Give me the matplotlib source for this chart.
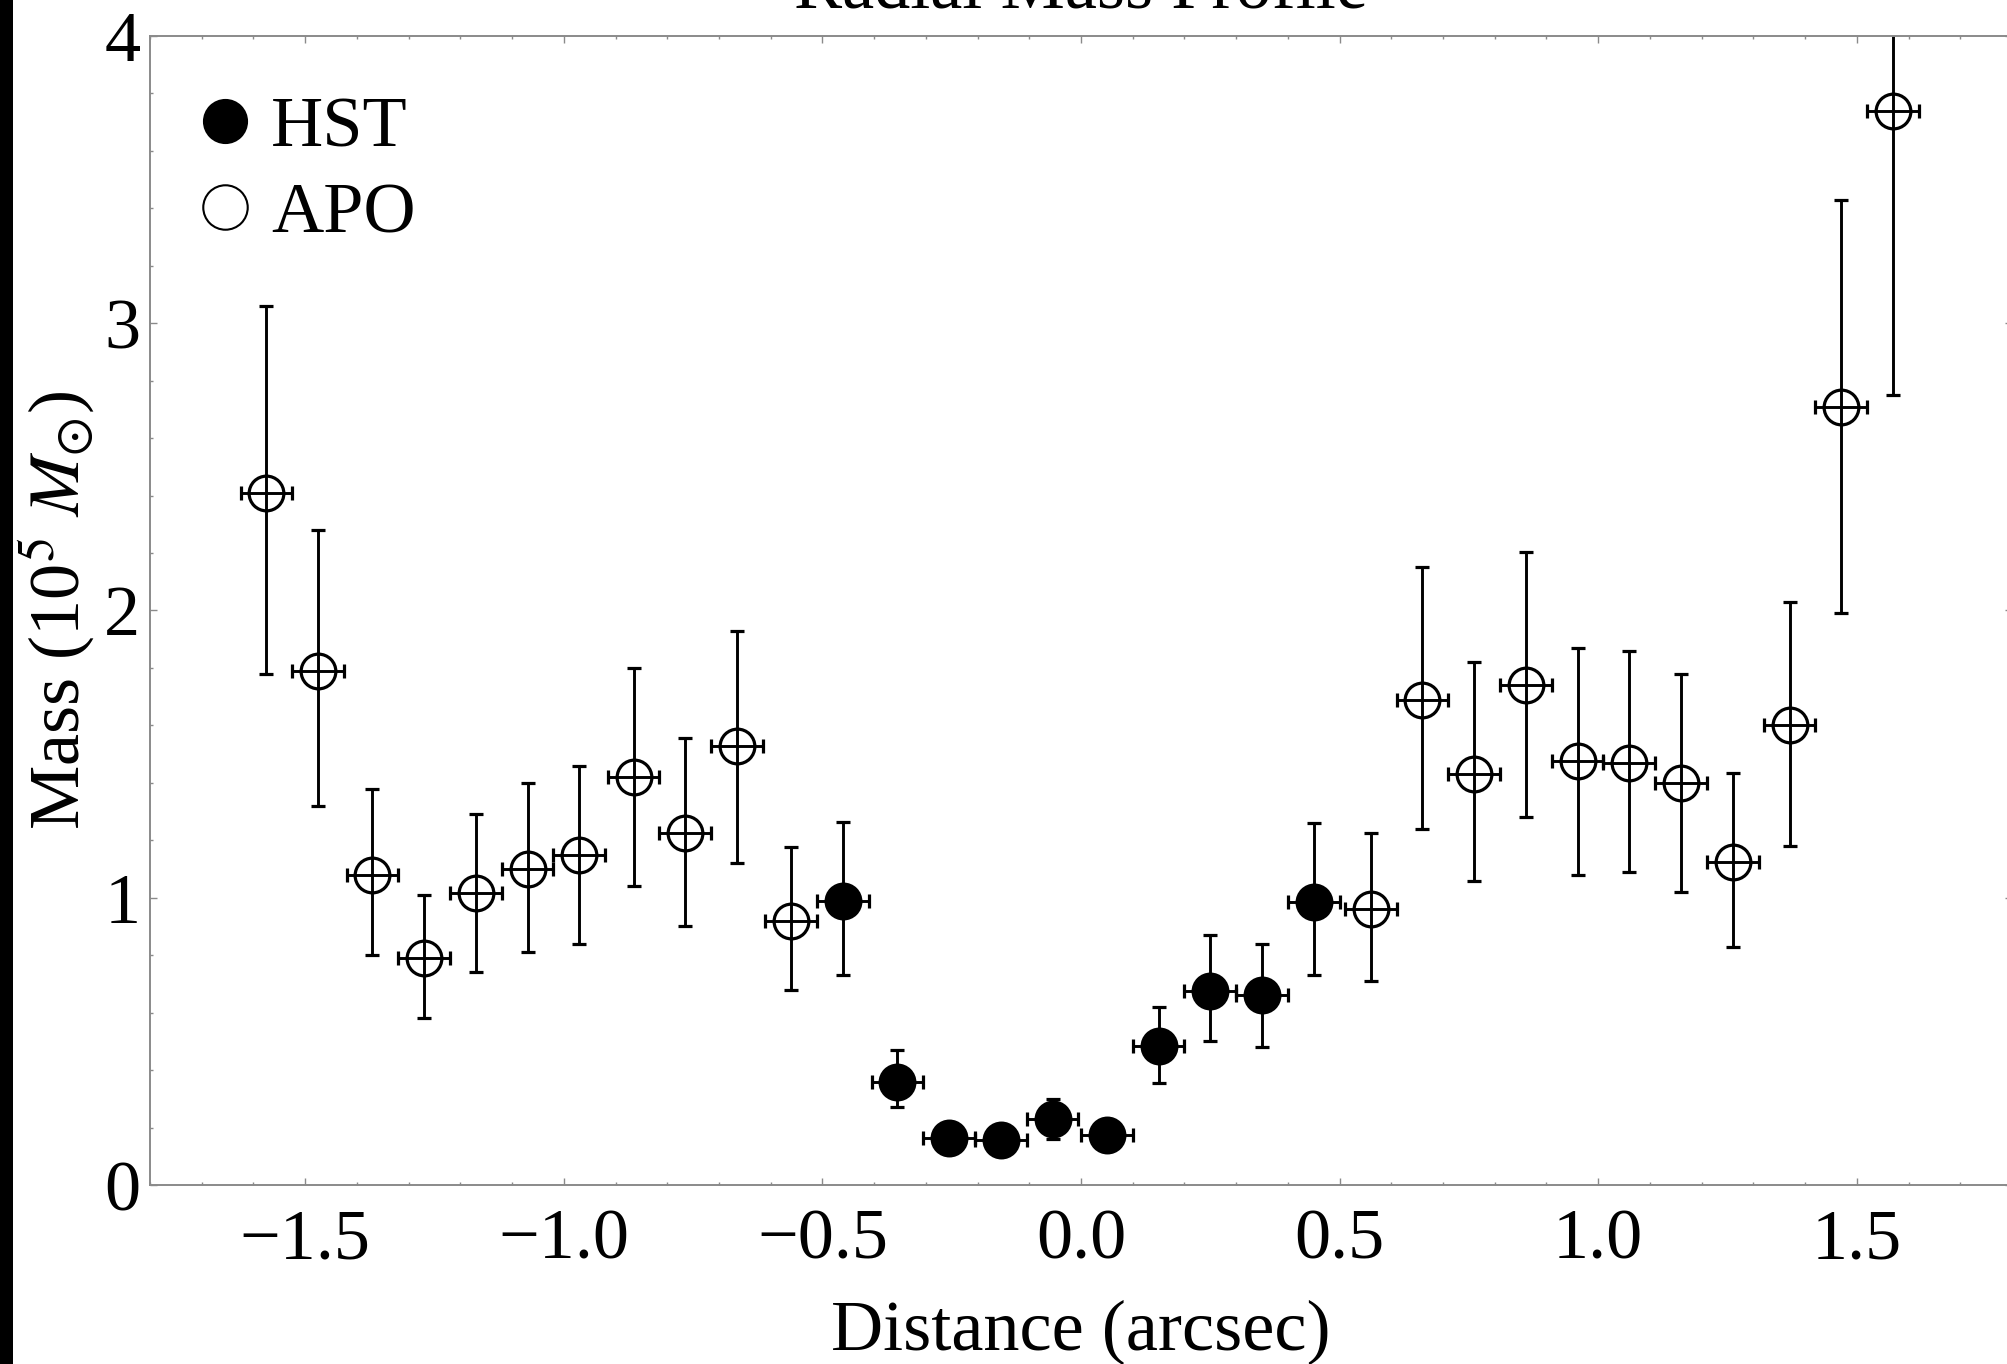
import matplotlib
matplotlib.use("Agg")
import matplotlib.pyplot as plt
from matplotlib.lines import Line2D
from matplotlib.patches import Rectangle
from matplotlib.ticker import MultipleLocator, FuncFormatter

plt.rcParams['font.family'] = ['Liberation Serif', 'DejaVu Serif']
plt.rcParams['mathtext.fontset'] = 'stix'

# HST points (filled)
hst_x = [-0.46, -0.355, -0.255, -0.155, -0.055, 0.05, 0.15, 0.25, 0.35, 0.45]
hst_mass = [0.99, 0.36, 0.165, 0.155, 0.23, 0.175, 0.485, 0.675, 0.66, 0.985]
hst_low = [0.73, 0.27, 0.115, 0.105, 0.16, 0.125, 0.355, 0.50, 0.48, 0.73]
hst_high = [1.265, 0.47, 0.215, 0.205, 0.30, 0.225, 0.62, 0.87, 0.84, 1.26]

# APO points (open)
apo_x = [-1.575, -1.475, -1.37, -1.27, -1.17, -1.07, -0.97, -0.865, -0.765, -0.665, -0.56,
         0.56, 0.66, 0.76, 0.86, 0.96, 1.06, 1.16, 1.26, 1.37, 1.47, 1.57]
apo_mass = [2.41, 1.79, 1.08, 0.79, 1.015, 1.10, 1.15, 1.42, 1.225, 1.53, 0.92,
            0.96, 1.69, 1.43, 1.74, 1.475, 1.47, 1.40, 1.125, 1.60, 2.71, 3.74]
apo_low = [1.78, 1.32, 0.80, 0.58, 0.74, 0.81, 0.84, 1.04, 0.90, 1.12, 0.68,
           0.71, 1.24, 1.06, 1.28, 1.08, 1.09, 1.02, 0.83, 1.18, 1.99, 2.75]
apo_high = [3.06, 2.28, 1.38, 1.01, 1.29, 1.40, 1.46, 1.80, 1.555, 1.93, 1.175,
            1.225, 2.15, 1.82, 2.205, 1.87, 1.86, 1.78, 1.435, 2.03, 3.43, 4.73]

x_halfwidth = 0.05

FS = 52
GRAY = '#8a8a8a'


def asym_err(vals, low, high):
    return [[v - l for v, l in zip(vals, low)], [h - v for v, h in zip(vals, high)]]


def main():
    fig = plt.figure(figsize=(20.07, 13.64), dpi=100)
    ax = fig.add_axes([0.07474, 0.13123, 0.92775, 0.84238])

    common = dict(fmt='o', color='black', ecolor='black', elinewidth=2.1,
                  capsize=5, capthick=2.1, markersize=25, markeredgewidth=2.3)
    ax.errorbar(apo_x, apo_mass, xerr=x_halfwidth, yerr=asym_err(apo_mass, apo_low, apo_high),
                markerfacecolor='none', **common)
    ax.errorbar(hst_x, hst_mass, xerr=x_halfwidth, yerr=asym_err(hst_mass, hst_low, hst_high),
                markerfacecolor='black', **common)

    ax.set_xlim(-1.8, 1.8)
    ax.set_ylim(0, 4)
    ax.xaxis.set_major_locator(MultipleLocator(0.5))
    ax.xaxis.set_minor_locator(MultipleLocator(0.1))
    ax.yaxis.set_major_locator(MultipleLocator(1))
    ax.yaxis.set_minor_locator(MultipleLocator(0.2))
    ax.xaxis.set_major_formatter(FuncFormatter(
        lambda v, p: ('\u2212' if v < -1e-9 else '') + f"{abs(v):.1f}"))
    ax.yaxis.set_major_formatter(FuncFormatter(lambda v, p: f"{v:g}"))

    for s in ax.spines.values():
        s.set_color(GRAY)
        s.set_linewidth(1.4)
    ax.tick_params(which='both', direction='in', top=True, right=True, color=GRAY, width=1.0)
    ax.tick_params(which='major', length=5)
    ax.tick_params(which='minor', length=2.5)
    ax.tick_params(axis='x', which='major', labelsize=FS, pad=17)
    ax.tick_params(axis='y', which='major', labelsize=FS, pad=7)

    ax.set_xlabel('Distance (arcsec)', fontsize=FS, va='baseline')
    ax.xaxis.set_label_coords(0.5, -0.1436)
    ax.set_ylabel('Mass (10$^{5}$ $M_{\\odot}$)', fontsize=FS, va='baseline')
    ax.yaxis.set_label_coords(-0.0376, 0.5)
    # title sits mostly above the picture's top edge, as in the original crop
    ax.set_title('Radial Mass Profile', fontsize=FS, pad=19.5)

    handles = [Line2D([], [], linestyle='none', marker='o', markersize=31,
                      markerfacecolor='black', markeredgecolor='black', markeredgewidth=1.5),
               Line2D([], [], linestyle='none', marker='o', markersize=32,
                      markerfacecolor='none', markeredgecolor='black', markeredgewidth=1.5)]
    ax.legend(handles, ['HST', 'APO'], loc='upper left', bbox_to_anchor=(0.0228, 0.9478),
              frameon=False, fontsize=FS, borderpad=0, borderaxespad=0,
              handlelength=0.9, handletextpad=0.19, labelspacing=0.277)

    # dark strip along the left edge of the picture
    fig.add_artist(Rectangle((0, 0), 12.5 / 2007, 1, transform=fig.transFigure,
                             facecolor='black', edgecolor='none', zorder=10))

    fig.savefig('out.png', dpi=100)


if __name__ == "__main__":
    main()
